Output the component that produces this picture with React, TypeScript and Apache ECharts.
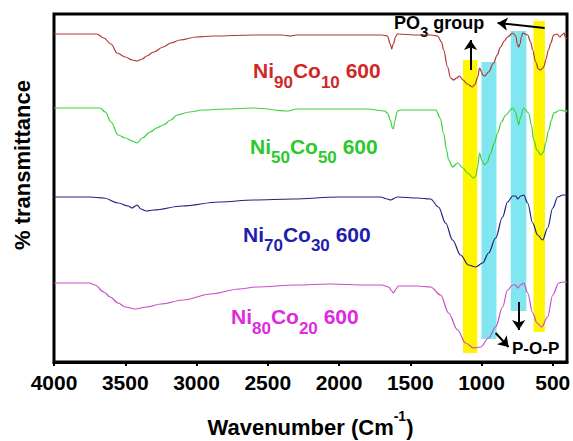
import React, { useEffect, useRef } from "react";
import * as echarts from "echarts";

// x axis: wavenumber (cm-1), reversed; y: offset transmittance (arbitrary units)
const wavenumberTicks = [4000, 3500, 3000, 2500, 2000, 1500, 1000, 500];

const ni90co10: [number, number][] = [
  [4000, 328], [3700, 328], [3650, 324], [3600, 318], [3557, 309], [3500, 305], [3450, 302],
  [3417, 301], [3380, 303], [3350, 306], [3300, 310], [3234, 315], [3180, 319], [3115, 322],
  [3000, 325], [2883, 326], [2600, 327], [2400, 327], [2342, 326], [2300, 327], [2100, 327],
  [1900, 327], [1700, 327], [1660, 326], [1640, 318], [1630, 313], [1620, 318], [1600, 326],
  [1590, 328], [1450, 327], [1350, 327], [1309, 326], [1280, 320], [1266, 312], [1238, 295],
  [1217, 284], [1196, 282], [1175, 284], [1154, 286], [1130, 282], [1100, 278], [1063, 275],
  [1045, 278], [1027, 285], [1013, 294], [1000, 290], [992, 287], [978, 286], [950, 290],
  [915, 299], [890, 307], [866, 315], [840, 321], [817, 325], [781, 329], [760, 326],
  [748, 318], [739, 315], [730, 318], [720, 325], [711, 329], [676, 327], [655, 320],
  [641, 312], [620, 300], [600, 293], [585, 292], [570, 294], [560, 296], [550, 302],
  [530, 312], [514, 319], [493, 327], [470, 328], [450, 325], [435, 327], [420, 329],
  [410, 324], [400, 323],
];

const ni50co50: [number, number][] = [
  [4000, 254], [3700, 254], [3677, 254], [3640, 250], [3600, 240], [3550, 227], [3500, 224],
  [3450, 221], [3417, 219], [3380, 224], [3325, 230], [3280, 234], [3234, 237], [3180, 242],
  [3136, 247], [3050, 250], [2953, 252], [2800, 253], [2600, 254], [2356, 251], [2300, 253],
  [2000, 253], [1800, 253], [1680, 251], [1660, 249], [1640, 242], [1625, 234], [1618, 233],
  [1610, 240], [1590, 251], [1569, 252], [1450, 252], [1320, 252], [1290, 244], [1266, 229],
  [1245, 212], [1231, 202], [1203, 195], [1168, 199], [1130, 194], [1098, 189], [1056, 184],
  [1040, 186], [1027, 195], [1013, 209], [999, 202], [978, 197], [960, 200], [936, 209],
  [910, 219], [887, 229], [860, 240], [831, 247], [781, 254], [760, 250], [745, 240],
  [739, 237], [728, 244], [704, 254], [669, 249], [650, 237], [634, 222], [610, 212],
  [585, 207], [565, 210], [550, 219], [528, 232], [510, 242], [493, 249], [444, 252],
  [420, 251], [405, 250], [400, 252],
];

const ni70co30: [number, number][] = [
  [4000, 165], [3750, 165], [3650, 164], [3550, 159], [3480, 156], [3452, 154], [3430, 156],
  [3417, 157], [3390, 153], [3353, 151], [3300, 152], [3100, 156], [2840, 160], [2600, 162],
  [2327, 163], [2000, 165], [1750, 165], [1709, 165], [1660, 163], [1639, 162], [1590, 165],
  [1450, 164], [1358, 163], [1302, 155], [1252, 139], [1203, 122], [1147, 107], [1091, 97],
  [1041, 95], [992, 99], [950, 109], [901, 124], [852, 145], [817, 160], [781, 166],
  [760, 166], [746, 163], [725, 166], [704, 167], [676, 159], [641, 139], [606, 127],
  [571, 122], [536, 134], [500, 154], [465, 165], [430, 167], [400, 167],
];

const ni80co20: [number, number][] = [
  [4000, 79], [3750, 79], [3712, 77], [3650, 70], [3606, 65], [3550, 59], [3500, 55],
  [3430, 53], [3350, 55], [3250, 58], [3094, 62], [2900, 68], [2700, 73], [2581, 75],
  [2300, 77], [2067, 78], [1800, 77], [1700, 77], [1650, 75], [1630, 71], [1618, 69],
  [1600, 73], [1583, 76], [1450, 76], [1358, 75], [1287, 67], [1231, 49], [1168, 32],
  [1112, 19], [1056, 14], [1006, 15], [950, 24], [901, 35], [852, 55], [817, 72],
  [781, 77], [760, 77], [746, 74], [725, 77], [704, 79], [676, 69], [641, 49], [610, 39],
  [578, 35], [536, 45], [500, 67], [458, 79], [430, 80], [400, 80],
];

// highlight bands: [from, to, low, high]
const yellowBands: [number, number, number, number][] = [
  [1130, 1030, 9, 302],
  [635, 555, 30, 341],
];
const cyanBands: [number, number, number, number][] = [
  [1000, 895, 23, 300],
  [795, 685, 51, 331],
];

// annotation arrows: [fromX, fromY, toX, toY]
const arrows: [number, number, number, number][] = [
  [557, 334, 887, 339],
  [1077, 292, 1077, 322],
  [739, 60, 739, 32],
  [901, 29, 810, 15],
];

const FONT = "'Liberation Sans', Arial, Helvetica, sans-serif";

function bandSeries(data: [number, number, number, number][], color: string) {
  return {
    type: "custom",
    z: 1,
    silent: true,
    encode: { x: [0, 1], y: [2, 3] },
    data,
    renderItem: (_params: any, api: any) => {
      const p1 = api.coord([api.value(0), api.value(3)]);
      const p2 = api.coord([api.value(1), api.value(2)]);
      return {
        type: "rect",
        shape: {
          x: Math.min(p1[0], p2[0]),
          y: Math.min(p1[1], p2[1]),
          width: Math.abs(p2[0] - p1[0]),
          height: Math.abs(p2[1] - p1[1]),
        },
        style: { fill: color },
      };
    },
  };
}

function lineSeries(name: string, data: [number, number][], color: string, extra: any = {}) {
  return {
    name,
    type: "line",
    data,
    showSymbol: false,
    symbol: "none",
    silent: true,
    smooth: 0.35,
    smoothMonotone: "x",
    z: 3,
    lineStyle: { color, width: 1.2 },
    ...extra,
  };
}

function curveLabel(a: string, b: string, c: string, d: string, x: number, top: number, color: string) {
  return {
    type: "text",
    x,
    y: top,
    silent: true,
    style: {
      text: `{m|${a}}{s|${b}}{m|${c}}{s|${d}}{m| 600}`,
      verticalAlign: "top",
      align: "left",
      rich: {
        m: { fontSize: 21, fontWeight: "bold", fontFamily: FONT, fill: color, lineHeight: 40 },
        s: { fontSize: 17, fontWeight: "bold", fontFamily: FONT, fill: color, lineHeight: 20, verticalAlign: "bottom" },
      },
    },
  };
}

export default function App() {
  const ref = useRef<HTMLDivElement>(null);
  useEffect(() => {
    document.body.style.margin = "0";
    if (!ref.current) return;
    const chart = echarts.init(ref.current, null, { renderer: "svg" });
    chart.setOption({
      animation: false,
      backgroundColor: "#ffffff",
      grid: {
        left: 54,
        right: 6,
        top: 14,
        bottom: 79,
        show: true,
        borderColor: "#000",
        borderWidth: 3,
        backgroundColor: "transparent",
        outerBoundsMode: "none",
        containLabel: false,
      },
      xAxis: {
        type: "value",
        min: 400,
        max: 4000,
        inverse: true,
        name: "Wavenumber (Cm{sup|-1})",
        nameLocation: "middle",
        nameGap: 47,
        nameTextStyle: {
          fontSize: 22,
          fontWeight: "bold",
          fontFamily: FONT,
          color: "#000",
          lineHeight: 36,
          rich: {
            sup: { fontSize: 14, fontWeight: "bold", fontFamily: FONT, color: "#000", lineHeight: 14, verticalAlign: "top" },
          },
        },
        axisLine: { show: true, lineStyle: { color: "#000", width: 3 } },
        axisTick: { show: true, length: 4, lineStyle: { color: "#000", width: 2 }, customValues: wavenumberTicks },
        axisLabel: {
          customValues: wavenumberTicks,
          formatter: (v: number) => String(v),
          color: "#000",
          fontSize: 21,
          fontWeight: "bold",
          fontFamily: FONT,
          margin: 10,
        },
        splitLine: { show: false },
      },
      yAxis: {
        type: "value",
        min: 0,
        max: 348,
        show: false,
        splitLine: { show: false },
      },
      series: [
        bandSeries(yellowBands, "#FFF500"),
        bandSeries(cyanBands, "#80E6EF"),
        lineSeries("Ni90Co10 600", ni90co10, "#B03636"),
        lineSeries("Ni50Co50 600", ni50co50, "#3CD03C"),
        lineSeries("Ni70Co30 600", ni70co30, "#22227E"),
        lineSeries("Ni80Co20 600", ni80co20, "#C84EC8", {
          markLine: {
            silent: true,
            symbol: ["none", "arrow"],
            symbolSize: 10,
            label: { show: false },
            lineStyle: { color: "#000", width: 2, type: "solid" },
            emphasis: { disabled: true },
            data: arrows.map(([x1, y1, x2, y2]) => [{ coord: [x1, y1] }, { coord: [x2, y2] }]),
          },
        }),
      ],
      graphic: [
        {
          type: "text",
          x: 22,
          y: 165,
          rotation: Math.PI / 2,
          silent: true,
          style: {
            text: "% transmittance",
            fontSize: 22,
            fontWeight: "bold",
            fontFamily: FONT,
            fill: "#000",
            align: "center",
            verticalAlign: "middle",
          },
        },
        curveLabel("Ni", "90", "Co", "10", 253, 50.5, "#D02828"),
        curveLabel("Ni", "50", "Co", "50", 250, 126, "#2CC82C"),
        curveLabel("Ni", "70", "Co", "30", 243, 214, "#1E1EAE"),
        curveLabel("Ni", "80", "Co", "20", 231, 296.5, "#DE2ADE"),
        {
          type: "text",
          x: 394,
          y: 7,
          silent: true,
          style: {
            text: "{m|PO}{s|3}{m| group}",
            verticalAlign: "top",
            align: "left",
            rich: {
              m: { fontSize: 18, fontWeight: "bold", fontFamily: FONT, fill: "#000", lineHeight: 32 },
              s: { fontSize: 15, fontWeight: "bold", fontFamily: FONT, fill: "#000", lineHeight: 22, verticalAlign: "bottom" },
            },
          },
        },
        {
          type: "text",
          x: 512,
          y: 348,
          silent: true,
          style: {
            text: "P-O-P",
            fontSize: 17,
            fontWeight: "bold",
            fontFamily: FONT,
            fill: "#000",
            align: "left",
            verticalAlign: "middle",
          },
        },
      ],
    });
    return () => chart.dispose();
  }, []);
  return <div ref={ref} style={{ width: 573, height: 441 }} />;
}
